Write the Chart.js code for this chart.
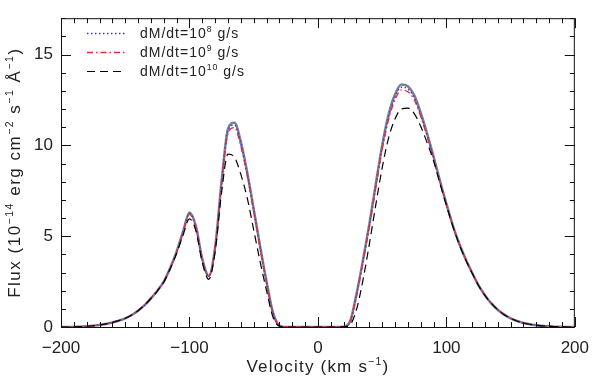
<!DOCTYPE html>
<html>
<head>
<meta charset="utf-8">
<script src="https://cdn.jsdelivr.net/npm/chart.js@4"></script>
<style>
  html, body { margin: 0; background: #fff; }
  #wrap { width: 600px; height: 382px; }
</style>
</head>
<body>
<div id="wrap"><canvas id="grafico"></canvas></div>
<script>
// velocidades cada 5 km/s de -200 a 200
const velocity = [];
for (let v = -200; v <= 200; v += 5) velocity.push(v);

// perfil sin acreción (línea gris gruesa)
const fluxBase = [
  0, 0, 0.01, 0.02, 0.04, 0.07, 0.11, 0.17, 0.25, 0.35,
  0.48, 0.66, 0.9, 1.2, 1.58, 2.0, 2.5, 3.25, 4.15, 5.25,
  6.3, 5.55, 3.75, 2.82, 4.4, 8.0, 10.9, 11.25, 10.2, 8.5,
  6.5, 4.45, 2.5, 0.8, 0.08, 0, 0, 0, 0, 0,
  0, 0, 0, 0, 0.02, 0.3, 1.8, 3.65, 5.65, 7.85,
  10.0, 11.7, 12.8, 13.35, 13.25, 12.75, 11.8, 10.65, 9.4, 8.05,
  6.8, 5.6, 4.6, 3.75, 3.0, 2.3, 1.75, 1.3, 0.95, 0.68,
  0.48, 0.33, 0.22, 0.15, 0.1, 0.06, 0.04, 0.02, 0.01, 0,
  0
];
const flux1e8 = [
  0, 0, 0.01, 0.02, 0.04, 0.07, 0.11, 0.17, 0.25, 0.35,
  0.48, 0.66, 0.9, 1.2, 1.58, 2.0, 2.5, 3.24, 4.13, 5.22,
  6.25, 5.5, 3.72, 2.8, 4.38, 7.95, 10.8, 11.12, 10.1, 8.42,
  6.45, 4.4, 2.47, 0.78, 0.07, 0, 0, 0, 0, 0,
  0, 0, 0, 0, 0.02, 0.28, 1.76, 3.6, 5.58, 7.76,
  9.88, 11.55, 12.65, 13.2, 13.1, 12.62, 11.7, 10.56, 9.34, 8.0,
  6.77, 5.58, 4.59, 3.74, 3.0, 2.3, 1.75, 1.3, 0.95, 0.68,
  0.48, 0.33, 0.22, 0.15, 0.1, 0.06, 0.04, 0.02, 0.01, 0,
  0
];
const flux1e9 = [
  0, 0, 0.01, 0.02, 0.04, 0.07, 0.11, 0.17, 0.25, 0.35,
  0.48, 0.66, 0.9, 1.2, 1.58, 2.0, 2.5, 3.23, 4.11, 5.18,
  6.2, 5.45, 3.7, 2.78, 4.35, 7.85, 10.65, 10.98, 9.95, 8.32,
  6.38, 4.35, 2.43, 0.76, 0.07, 0, 0, 0, 0, 0,
  0, 0, 0, 0, 0.02, 0.26, 1.7, 3.52, 5.48, 7.64,
  9.74, 11.4, 12.5, 13.05, 12.95, 12.5, 11.6, 10.48, 9.28, 7.96,
  6.74, 5.57, 4.58, 3.73, 2.99, 2.3, 1.75, 1.3, 0.95, 0.68,
  0.48, 0.33, 0.22, 0.15, 0.1, 0.06, 0.04, 0.02, 0.01, 0,
  0
];
const flux1e10 = [
  0, 0, 0.01, 0.02, 0.04, 0.07, 0.11, 0.17, 0.25, 0.35,
  0.48, 0.66, 0.9, 1.2, 1.57, 1.98, 2.47, 3.2, 4.05, 5.05,
  5.95, 5.3, 3.55, 2.62, 4.15, 7.4, 9.52, 9.35, 8.4, 7.1,
  5.35, 3.6, 2.0, 0.55, 0.04, 0, 0, 0, 0, 0,
  0, 0, 0, 0, 0.01, 0.12, 0.95, 2.55, 4.55, 6.7,
  8.75, 10.4, 11.45, 12.0, 12.05, 11.75, 11.05, 10.15, 9.15, 7.9,
  6.7, 5.55, 4.55, 3.7, 2.97, 2.28, 1.74, 1.3, 0.95, 0.68,
  0.48, 0.33, 0.22, 0.15, 0.1, 0.06, 0.04, 0.02, 0.01, 0,
  0
];

const xTicks = [-200, -100, 0, 100, 200];
const yTicks = [0, 5, 10, 15];
const xMin = -200, xMax = 200, xStep = 100, xMinor = 10;
const yMin = 0, yMax = 17, yStep = 5, yMinor = 1;

// leyenda: [texto, exponente, resto]
const legendLabels = [
  ['dM/dt=10', '8', ' g/s'],
  ['dM/dt=10', '9', ' g/s'],
  ['dM/dt=10', '10', ' g/s'],
];

const FONT = "'Liberation Sans', Arial, sans-serif";
const TEXT = '#222';

function puntos(serie) {
  return velocity.map((v, i) => ({ x: v, y: serie[i] }));
}

// texto con superíndices: partes = [[texto, esSup], ...]; align 'center' o 'left'
function textoRico(ctx, partes, x, y, size, spacing, align = 'center') {
  ctx.letterSpacing = spacing + 'px';
  const medir = (p) => {
    ctx.font = `${p[1] ? size * 0.62 : size}px ${FONT}`;
    return ctx.measureText(p[0]).width;
  };
  const total = partes.reduce((s, p) => s + medir(p), 0);
  let cx = align === 'left' ? x : x - total / 2;
  partes.forEach((p) => {
    const w = medir(p);
    ctx.fillText(p[0], cx, p[1] ? y - size * 0.42 : y);
    cx += w;
  });
  ctx.letterSpacing = '0px';
}

const marco = {
  id: 'marco',
  afterDraw(chart) {
    const { ctx, chartArea: a, scales } = chart;
    ctx.save();
    ctx.strokeStyle = '#111';
    ctx.lineWidth = 1;
    ctx.strokeRect(a.left + 0.5, a.top + 0.5, a.right - a.left - 1, a.bottom - a.top);

    // marcas hacia dentro, en los cuatro lados
    ctx.beginPath();
    for (let v = xMin; v <= xMax; v += xMinor) {
      const px = Math.round(scales.x.getPixelForValue(v)) + 0.5;
      const len = v % xStep === 0 ? 10 : 5;
      ctx.moveTo(px, a.bottom); ctx.lineTo(px, a.bottom - len);
      ctx.moveTo(px, a.top); ctx.lineTo(px, a.top + len);
    }
    for (let v = yMin; v <= yMax; v += yMinor) {
      const py = Math.round(scales.y.getPixelForValue(v)) + 0.5;
      const len = v % yStep === 0 ? 10 : 5;
      ctx.moveTo(a.left, py); ctx.lineTo(a.left + len, py);
      ctx.moveTo(a.right, py); ctx.lineTo(a.right - len, py);
    }
    ctx.stroke();

    // títulos de ejes
    ctx.fillStyle = TEXT;
    ctx.textBaseline = 'alphabetic';
    ctx.textAlign = 'left';
    textoRico(ctx, [['Velocity (km s', false], ['\u22121', true], [')', false]],
      (a.left + a.right) / 2, 372, 17, 1.2);
    ctx.save();
    ctx.translate(20, (a.top + a.bottom) / 2);
    ctx.rotate(-Math.PI / 2);
    textoRico(ctx, [['Flux (10', false], ['\u221214', true], [' erg cm', false], ['\u22122', true],
      [' s', false], ['\u22121', true], [' \u00c5', false], ['\u22121', true], [')', false]],
      0, 0, 17, 1.5);
    ctx.restore();

    // leyenda
    const ds = chart.data.datasets;
    legendLabels.forEach((lab, i) => {
      const d = ds[i + 1];
      const y = 33 + i * 19;
      ctx.save();
      ctx.strokeStyle = d.borderColor;
      ctx.lineWidth = d.borderWidth;
      ctx.setLineDash(d.borderDash || []);
      ctx.beginPath();
      ctx.moveTo(87, y + 0.5); ctx.lineTo(126, y + 0.5);
      ctx.stroke();
      ctx.restore();
      ctx.fillStyle = TEXT;
      textoRico(ctx, [[lab[0], false], [lab[1], true], [lab[2], false]], 140, y + 5, 14, 1, 'left');
    });
    ctx.restore();
  },
};

const menos = (v) => String(v).replace('-', '\u2212');

new Chart(document.getElementById('grafico'), {
  type: 'line',
  data: {
    datasets: [
      { label: 'base', data: puntos(fluxBase), borderColor: '#7a818f', borderWidth: 2.5, order: 4 },
      { label: '1e8', data: puntos(flux1e8), borderColor: '#3030ff', borderWidth: 1.3, borderDash: [1.5, 2.5], order: 3 },
      { label: '1e9', data: puntos(flux1e9), borderColor: '#e82a36', borderWidth: 1.3, borderDash: [6, 3, 1.5, 3], order: 2 },
      { label: '1e10', data: puntos(flux1e10), borderColor: '#000000', borderWidth: 1.2, borderDash: [8, 5], order: 1 },
    ],
  },
  options: {
    animation: false,
    responsive: true,
    maintainAspectRatio: false,
    layout: { padding: { top: 5, right: 17, left: 0, bottom: 0 } },
    elements: { point: { radius: 0 }, line: { cubicInterpolationMode: 'monotone', fill: false } },
    plugins: { legend: { display: false }, tooltip: { enabled: false } },
    scales: {
      x: {
        type: 'linear', min: xMin, max: xMax,
        grid: { display: false, drawTicks: false },
        border: { display: false },
        afterBuildTicks: (s) => { s.ticks = xTicks.map((value) => ({ value })); },
        ticks: { padding: 11, color: TEXT, font: { family: FONT, size: 17 }, callback: menos, maxRotation: 0 },
        afterFit: (s) => { s.height = 55; },
      },
      y: {
        type: 'linear', min: yMin, max: yMax,
        grid: { display: false, drawTicks: false },
        border: { display: false },
        afterBuildTicks: (s) => { s.ticks = yTicks.map((value) => ({ value })); },
        ticks: { padding: 8, color: TEXT, font: { family: FONT, size: 17 }, callback: menos },
        afterFit: (s) => { s.width = 61; },
      },
    },
  },
  plugins: [marco],
});
</script>
</body>
</html>
